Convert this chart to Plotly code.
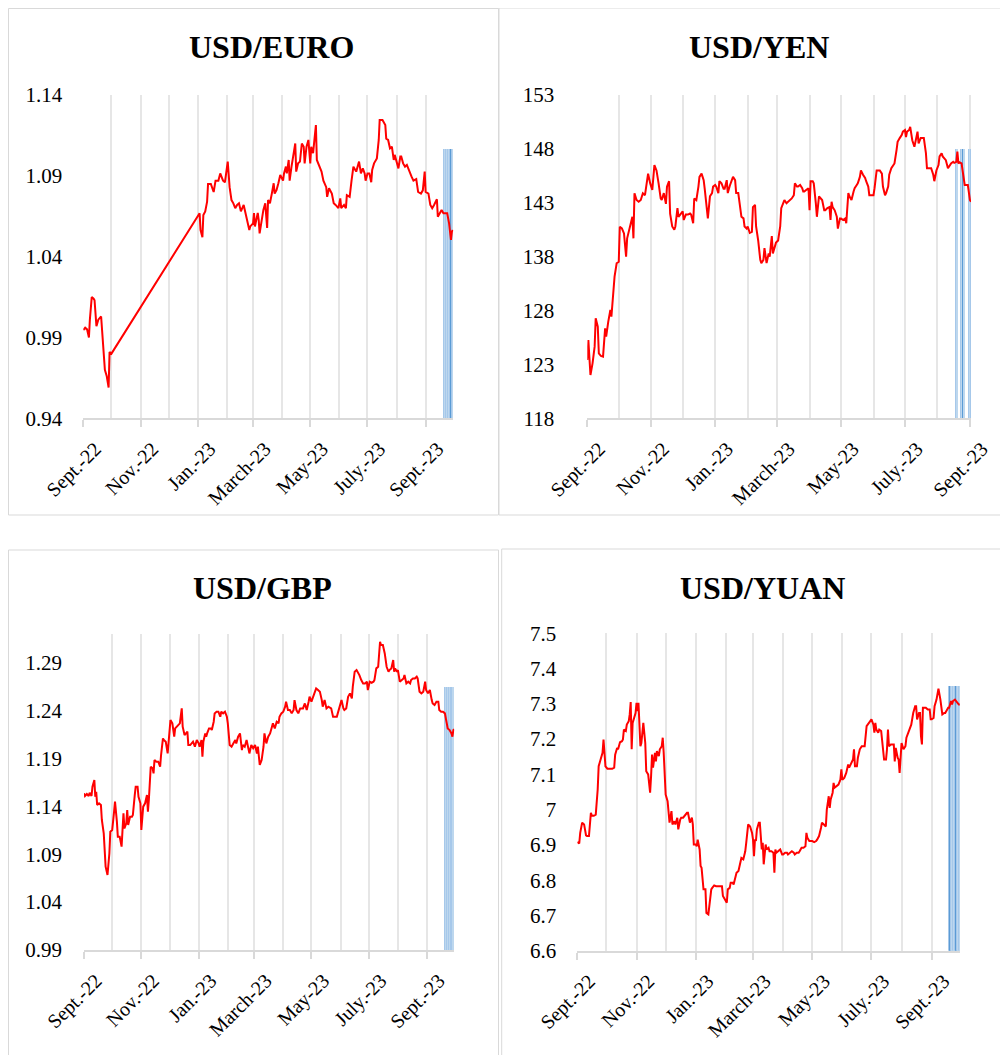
import numpy as np
import pandas as pd
import plotly.graph_objects as go

# ---------------- data (day offsets are days since 2022-09-01) ----------------
START = pd.Timestamp("2022-09-01")

EURO = [(0,0.9946),(2,0.996),(4,0.995),(6,0.990),(7,1.001),(9,1.015),(11,1.014),(12,1.013),(14,0.997),
(16,1.001),(19,1.003),(21,0.983),(23,0.970),(25,0.966),(27,0.959),(28,0.981),(30,0.980),
(124,1.0668),(125,1.0565),(127,1.052),(128,1.0658),(130,1.068),(132,1.074),(133,1.085),(136,1.085),
(139,1.080),(141,1.087),(144,1.087),(146,1.0915),(149,1.087),(151,1.086),(154,1.0988),(156,1.083),
(158,1.075),(160,1.073),(162,1.070),(164,1.072),(166,1.073),(168,1.068),(171,1.072),(173,1.067),
(175,1.0606),(177,1.0565),(178,1.0587),(181,1.0606),(182,1.067),(183,1.0587),(186,1.067),(187,1.0627),
(188,1.0544),(190,1.0627),(192,1.0689),(194,1.073),(196,1.0577),(197,1.075),(199,1.073),(201,1.079),
(203,1.0854),(204,1.079),(206,1.0812),(208,1.0854),(210,1.0905),(213,1.087),(214,1.0915),(216,1.0957),
(217,1.0915),(219,1.0998),(220,1.087),(222,1.0957),(224,1.104),(226,1.110),(227,1.0926),(229,1.0977),
(231,1.0988),(233,1.110),(235,1.108),(236,1.0977),(238,1.108),(240,1.1122),(242,1.0977),(243,1.108),
(245,1.104),(248,1.1214),(249,1.0998),(252,1.0957),(254,1.0926),(256,1.087),(259,1.083),(260,1.077),
(262,1.0823),(265,1.079),(267,1.073),(269,1.072),(272,1.070),(274,1.076),(275,1.070),(278,1.072),
(280,1.070),(281,1.078),(284,1.077),(286,1.087),(288,1.0957),(290,1.0936),(291,1.0926),(294,1.0988),
(296,1.0915),(298,1.0946),(300,1.0915),(301,1.087),(303,1.0915),(305,1.0915),(307,1.086),(308,1.0936),
(310,1.0977),(313,1.1008),(315,1.1122),(316,1.1245),(319,1.1245),(322,1.1214),(323,1.113),(325,1.1122),
(327,1.107),(329,1.108),(331,1.0998),(332,1.103),(334,1.0988),(336,1.0946),(338,1.1019),(339,1.1019),
(341,1.0977),(343,1.0957),(345,1.0967),(348,1.0915),(350,1.0895),(352,1.087),(355,1.088),(357,1.080),
(360,1.079),(362,1.081),(364,1.0926),(365,1.080),(368,1.079),(370,1.072),(372,1.070),(374,1.072),
(377,1.0755),(378,1.0647),(380,1.0668),(382,1.0689),(384,1.0668),(386,1.0668),(388,1.0668),(390,1.0606),
(391,1.0565),(392,1.0503),(393,1.0555),(394,1.0565)]

YEN = [(0,123.41),(1,125.27),(3,122.02),(5,123.1),(7,124.65),(8,127.28),(10,126.5),(11,124.03),(13,123.78),
(15,123.72),(17,126.35),(18,125.58),(20,126.97),(22,128.1),(23,127.43),(25,131.8),(26,134.3),(28,136.76),
(30,137.07),(31,140.78),(33,140.63),(35,140.16),(37,138.0),(38,139.7),(41,140.8),(43,141.7),(44,139.7),
(45,143.88),(47,143.26),(49,143.1),(51,143.26),(53,143.88),(55,143.7),(57,145.1),(58,145.7),(60,144.8),
(62,144.2),(64,146.5),(66,146.0),(68,144.8),(70,143.4),(71,143.26),(73,143.9),(75,142.9),(76,144.5),
(78,145.0),(79,142.0),(81,140.8),(83,140.5),(84,140.8),(86,142.5),(87,141.7),(89,142.0),(91,142.2),
(92,141.4),(94,141.9),(96,141.9),(98,142.0),(99,141.9),(101,141.1),(102,143.4),(104,143.25),(106,144.5),
(107,145.4),(109,145.7),(111,145.1),(112,144.3),(114,142.3),(115,141.55),(117,143.6),(119,143.9),
(120,144.5),(122,144.65),(123,144.5),(125,143.9),(126,145.0),(128,144.8),(130,144.3),(131,144.3),
(133,145.1),(134,143.9),(136,144.6),(138,145.1),(139,145.4),(141,145.1),(142,143.9),(144,143.9),
(146,142.6),(147,141.7),(149,141.55),(150,140.8),(152,140.6),(153,140.8),(155,140.2),(157,140.3),
(158,142.6),(160,142.8),(161,140.8),(163,139.5),(165,137.4),(166,136.8),(168,137.4),(169,138.8),
(171,136.8),(173,138.3),(174,138.0),(176,139.9),(177,138.3),(179,138.9),(180,139.3),(182,139.5),
(184,140.8),(185,142.5),(187,142.95),(188,143.25),(190,142.95),(192,143.1),(193,143.25),(195,143.4),
(197,143.7),(198,144.8),(200,144.5),(201,144.5),(203,144.65),(205,144.35),(206,144.05),(207,144.05),
(209,144.2),(211,144.35),(212,142.3),(213,145.0),(215,145.0),(216,144.8),(218,142.95),(219,141.7),
(221,143.6),(223,143.4),(224,143.25),(226,142.3),(227,142.3),(229,142.5),(231,142.6),(232,141.4),
(233,143.1),(234,142.6),(236,142.3),(238,141.7),(239,140.6),(241,141.55),(242,141.55),(244,141.4),
(246,141.55),(247,141.1),(249,143.9),(250,143.6),(252,143.25),(254,144.05),(255,144.35),(257,144.65),
(258,144.8),(260,145.4),(261,146.0),(263,145.6),(265,145.3),(266,145.0),(268,144.5),(269,143.7),
(271,143.7),(273,143.7),(274,144.35),(276,146.0),(277,146.0),(279,146.0),(281,145.7),(282,144.5),
(284,143.7),(285,143.9),(287,144.5),(288,145.6),(290,146.2),(292,146.5),(293,146.65),(295,147.9),
(296,148.65),(298,149.0),(300,149.3),(301,149.6),(303,149.75),(304,149.1),(305,149.6),(307,149.75),
(308,150.05),(310,148.8),(312,148.2),(313,148.65),(315,149.6),(316,148.5),(318,149.0),(320,149.0),
(321,149.0),(323,147.6),(324,146.2),(327,146.2),(328,146.2),(330,145.6),(331,145.0),(333,146.0),
(335,146.5),(336,147.3),(338,147.6),(339,147.3),(341,147.1),(342,146.95),(344,146.2),(346,146.5),
(347,146.65),(349,146.8),(350,146.7),(352,146.8),(353,147.75),(354,146.65),(355,146.75),(357,146.65),
(358,146.0),(360,144.65),(362,144.65),(363,144.65),(365,143.25),(366,143.1)]

GBP = [(0,1.1536),(1,1.1508),(3,1.1529),(5,1.1508),(6,1.1543),(8,1.1508),(9,1.1606),(11,1.1675),(12,1.150),
(13,1.1553),(14,1.1414),(16,1.1432),(18,1.1414),(19,1.1258),(21,1.1118),(22,1.084),(23,1.077),(25,1.0683),
(27,1.091),(28,1.1136),(30,1.1153),(32,1.1345),(33,1.1449),(35,1.124),(36,1.1083),(38,1.1083),(40,1.0979),
(42,1.1327),(43,1.117),(45,1.1223),(46,1.1362),(47,1.1205),(49,1.1292),(51,1.1292),(52,1.131),(54,1.1518),
(55,1.1606),(57,1.1606),(58,1.150),(60,1.1432),(61,1.1153),(63,1.1397),(65,1.1432),(67,1.1518),(68,1.1345),
(69,1.1466),(71,1.1814),(73,1.1797),(74,1.1745),(75,1.1884),(77,1.1867),(79,1.1867),(81,1.1814),(82,1.1936),
(84,1.211),(85,1.2093),(87,1.2075),(89,1.1953),(91,1.2197),(92,1.2301),(94,1.2267),(96,1.2128),(97,1.2214),
(100,1.2249),(102,1.2267),(104,1.2423),(105,1.2232),(107,1.2145),(110,1.218),(111,1.204),(113,1.204),
(116,1.2075),(118,1.2023),(120,1.2093),(122,1.2058),(123,1.2023),(125,1.2093),(126,1.1919),(127,1.2075),
(129,1.2162),(130,1.2128),(131,1.2162),(133,1.2214),(135,1.2214),(136,1.2197),(138,1.2284),(139,1.2371),
(141,1.2388),(143,1.2388),(145,1.2336),(146,1.2388),(148,1.2371),(150,1.2388),(152,1.2336),(153,1.2267),
(155,1.204),(157,1.2023),(159,1.2058),(161,1.2093),(162,1.2058),(164,1.2128),(166,1.2162),(168,1.1988),
(169,1.204),(171,1.2023),(173,1.2093),(175,1.1988),(176,1.1953),(178,1.204),(180,1.2006),(182,1.204),
(184,1.1953),(185,1.2023),(187,1.1832),(189,1.1884),(191,1.2023),(192,1.2162),(194,1.2058),(196,1.2128),
(198,1.2162),(200,1.2232),(201,1.2267),(203,1.2214),(205,1.2284),(207,1.2267),(208,1.2336),(210,1.2371),
(212,1.2388),(214,1.2441),(215,1.2493),(217,1.2406),(219,1.2406),(221,1.2371),(223,1.2406),(224,1.251),
(226,1.2406),(228,1.2371),(230,1.2423),(231,1.2423),(233,1.2423),(235,1.2475),(237,1.2406),(239,1.2493),
(240,1.2545),(242,1.2493),(244,1.2545),(246,1.2615),(247,1.2632),(249,1.2615),(251,1.2597),(253,1.251),
(254,1.2441),(256,1.251),(258,1.2423),(260,1.2441),(262,1.2423),(263,1.2423),(265,1.2336),(267,1.2336),
(269,1.2336),(270,1.2371),(272,1.2441),(274,1.251),(276,1.2423),(277,1.2406),(279,1.2423),(281,1.2545),
(283,1.258),(285,1.2528),(286,1.265),(288,1.2806),(290,1.2823),(292,1.2789),(293,1.2771),(295,1.2719),
(297,1.2684),(299,1.2684),(301,1.2702),(302,1.2615),(304,1.2702),(306,1.2691),(308,1.2702),(309,1.2719),
(311,1.2841),(313,1.2858),(315,1.3119),(316,1.3084),(318,1.3084),(320,1.2997),(322,1.2858),(324,1.2806),
(325,1.2823),(327,1.2841),(329,1.2928),(330,1.2806),(331,1.2841),(333,1.2806),(334,1.2823),(336,1.2702),
(338,1.2719),(340,1.2736),(341,1.2771),(343,1.2684),(345,1.2702),(347,1.2684),(348,1.2719),(350,1.2736),
(352,1.2736),(354,1.2754),(355,1.2736),(357,1.2597),(359,1.258),(361,1.2597),(363,1.2702),(364,1.2615),
(366,1.258),(368,1.2615),(370,1.251),(371,1.2475),(373,1.2458),(375,1.2493),(377,1.2493),(378,1.2406),
(380,1.2388),(382,1.2388),(384,1.2371),(386,1.2267),(387,1.2214),(389,1.2197),(391,1.2162),(392,1.2128),
(393,1.2197),(394,1.2204)]

YUAN = [(0,6.908),(2,6.904),(3,6.934),(5,6.963),(7,6.958),(9,6.927),(10,6.925),(12,6.925),(14,6.991),
(15,6.983),(17,6.983),(19,6.986),(21,7.057),(22,7.123),(24,7.142),(26,7.161),(27,7.199),(29,7.123),
(31,7.116),(34,7.116),(36,7.116),(38,7.119),(39,7.156),(41,7.175),(42,7.171),(44,7.191),(46,7.194),
(47,7.199),(48,7.227),(50,7.223),(51,7.241),(53,7.251),(54,7.270),(55,7.305),(56,7.171),(57,7.246),
(58,7.256),(60,7.274),(61,7.303),(62,7.279),(63,7.303),(65,7.180),(66,7.189),(68,7.246),(70,7.189),
(71,7.109),(73,7.100),(75,7.048),(76,7.095),(77,7.156),(78,7.119),(80,7.161),(81,7.137),(82,7.166),
(84,7.152),(85,7.171),(87,7.180),(88,7.204),(89,7.161),(91,7.043),(93,7.024),(94,6.986),(95,6.963),
(97,6.996),(98,6.958),(100,6.967),(101,6.958),(103,6.977),(104,6.944),(106,6.972),(107,6.977),(109,6.977),
(111,6.986),(113,6.991),(114,6.991),(116,6.963),(118,6.977),(119,6.958),(120,6.901),(122,6.901),
(123,6.896),(124,6.915),(126,6.887),(127,6.840),(128,6.835),(130,6.774),(132,6.774),(133,6.707),
(135,6.703),(137,6.745),(138,6.774),(139,6.778),(141,6.785),(143,6.783),(145,6.783),(147,6.783),
(149,6.783),(150,6.755),(152,6.745),(154,6.736),(155,6.774),(157,6.778),(158,6.793),(160,6.793),
(161,6.788),(163,6.811),(164,6.821),(166,6.826),(168,6.854),(169,6.863),(171,6.859),(173,6.882),
(174,6.906),(176,6.958),(178,6.952),(180,6.934),(181,6.915),(182,6.868),(183,6.915),(184,6.911),
(185,6.944),(187,6.963),(188,6.963),(190,6.887),(191,6.906),(192,6.845),(194,6.901),(195,6.887),
(197,6.892),(198,6.882),(200,6.882),(202,6.878),(203,6.821),(204,6.887),(205,6.878),(207,6.882),
(209,6.887),(211,6.873),(212,6.873),(214,6.878),(216,6.878),(217,6.873),(219,6.878),(221,6.882),
(223,6.878),(224,6.873),(226,6.878),(228,6.878),(229,6.882),(231,6.892),(233,6.892),(235,6.896),
(236,6.934),(237,6.920),(239,6.911),(240,6.911),(242,6.911),(244,6.908),(246,6.911),(247,6.915),
(249,6.925),(251,6.948),(252,6.963),(254,6.958),(256,6.952),(257,7.000),(259,7.038),(260,7.005),
(261,7.029),(263,7.048),(264,7.076),(265,7.062),(267,7.067),(269,7.071),(271,7.085),(272,7.114),
(273,7.085),(275,7.090),(277,7.104),(279,7.128),(280,7.119),(282,7.133),(284,7.142),(285,7.171),
(286,7.123),(288,7.123),(289,7.147),(291,7.171),(293,7.180),(295,7.180),(296,7.180),(298,7.237),
(300,7.246),(302,7.251),(303,7.256),(305,7.241),(306,7.218),(307,7.246),(308,7.227),(310,7.218),
(311,7.227),(313,7.223),(315,7.161),(316,7.142),(318,7.142),(319,7.171),(320,7.227),(321,7.180),
(323,7.185),(324,7.185),(326,7.185),(327,7.137),(328,7.175),(330,7.147),(331,7.142),(332,7.104),
(333,7.161),(334,7.189),(336,7.171),(338,7.180),(339,7.204),(341,7.218),(343,7.232),(344,7.241),
(346,7.274),(348,7.293),(349,7.293),(350,7.256),(352,7.274),(353,7.274),(354,7.208),(355,7.185),
(356,7.289),(358,7.289),(359,7.289),(361,7.284),(362,7.284),(363,7.284),(364,7.256),(365,7.256),
(367,7.260),(368,7.293),(370,7.312),(371,7.336),(372,7.343),(374,7.312),(375,7.279),(376,7.270),
(378,7.274),(379,7.274),(380,7.279),(382,7.289),(383,7.289),(385,7.308),(386,7.298),(387,7.308),
(389,7.312),(390,7.308),(391,7.303),(393,7.298),(394,7.298)]

# shaded (blue column) period in each panel: days and column height
EURO_BAND_DAYS = [385, 386, 387, 388, 389, 390, 391, 392, 393, 394]
EURO_BAND_VALUE = 1.1066
YEN_BAND_DAYS = [352, 353, 357, 358, 359, 360, 364, 365, 366]
YEN_BAND_VALUE = 148
GBP_BAND_DAYS = [384, 385, 386, 387, 388, 389, 390, 391, 392, 393]
GBP_BAND_VALUE = 1.265
YUAN_BAND_DAYS = [383, 384, 385, 386, 387, 388, 389, 390, 391, 392, 393, 394]
YUAN_BAND_VALUE = 7.35

# axis ticks
X_TICK_DATES = ["2022-09-01", "2022-11-01", "2023-01-01", "2023-03-01", "2023-05-01", "2023-07-01", "2023-09-01"]
X_TICK_TEXT = ["Sept.-22", "Nov.-22", "Jan.-23", "March-23", "May-23", "July.-23", "Sept.-23"]
EURO_TICKS = [0.94, 0.99, 1.04, 1.09, 1.14]
YEN_TICKS = [118, 123, 128, 138, 143, 148, 153]   # labels as printed (evenly spaced on the chart)
GBP_TICKS = [0.99, 1.04, 1.09, 1.14, 1.19, 1.24, 1.29]
YUAN_TICKS = [6.6, 6.7, 6.8, 6.9, 7.0, 7.1, 7.2, 7.3, 7.4, 7.5]
YUAN_TICK_TEXT = ["6.6", "6.7", "6.8", "6.9", "7", "7.1", "7.2", "7.3", "7.4", "7.5"]

# ---------------- helpers ----------------
def to_dates(days):
    return START + pd.to_timedelta(np.asarray(days, dtype=float), unit="D")

def split(pairs):
    d, v = zip(*pairs)
    return to_dates(d), np.array(v, dtype=float)

# the yen axis prints unevenly stepped labels at even spacing: map values onto that scale
def yen_scale(v):
    return np.interp(np.asarray(v, dtype=float), YEN_TICKS, np.arange(len(YEN_TICKS)))

FONT = "Liberation Serif, Times New Roman, serif"
RED = "#ff0000"
GRID = "#e6e6e6"
AXIS = "#d9d9d9"
DAY_MS = 86400000

# page body has an 8 px margin: figure occupies (8..1008, 8..1055) of the window
OFF = 8
W, H = 1000, 1047

def px(x):
    return (x - OFF) / W

def py(y):
    return 1 - (y - OFF) / H

def band_colors(n, dark_idx):
    cols = ["#a6c8ea" if i % 2 == 0 else "#bdd7ee" for i in range(n)]
    for k in dark_idx:
        cols[k] = "#5b9bd5"
    return cols

fig = go.Figure()

panels = [
    dict(title="USD/EURO", data=EURO, band=(EURO_BAND_DAYS, EURO_BAND_VALUE), dark=[7],
         xd=[83.3, 453.3], yd=[95, 418.3], xend=394.5, yrange=[0.94, 1.14],
         ytickvals=EURO_TICKS, yticktext=[f"{t:.2f}" for t in EURO_TICKS], standoff=20,
         tpos=(271, 47), scale=None),
    dict(title="USD/YEN", data=YEN, band=(YEN_BAND_DAYS, YEN_BAND_VALUE), dark=[4],
         xd=[587.3, 971.0], yd=[95, 418.3], xend=366, yrange=[0, len(YEN_TICKS) - 1],
         ytickvals=list(range(len(YEN_TICKS))), yticktext=[str(t) for t in YEN_TICKS], standoff=32,
         tpos=(759, 47), scale=yen_scale),
    dict(title="USD/GBP", data=GBP, band=(GBP_BAND_DAYS, GBP_BAND_VALUE), dark=[7],
         xd=[84.0, 454.3], yd=[634, 950], xend=394, yrange=[0.99, 1.32],
         ytickvals=GBP_TICKS, yticktext=[f"{t:.2f}" for t in GBP_TICKS], standoff=21,
         tpos=(262, 588), scale=None),
    dict(title="USD/YUAN", data=YUAN, band=(YUAN_BAND_DAYS, YUAN_BAND_VALUE), dark=[1, 7],
         xd=[577.3, 960.0], yd=[633.3, 950.7], xend=394.2, yrange=[6.6, 7.5],
         ytickvals=YUAN_TICKS, yticktext=YUAN_TICK_TEXT, standoff=20,
         tpos=(762, 588), scale=None),
]

layout = dict(width=W, height=H, margin=dict(l=0, r=0, t=0, b=0),
              paper_bgcolor="white", plot_bgcolor="white", showlegend=False,
              bargap=0, barmode="overlay", annotations=[], shapes=[])

minor_vals = pd.date_range("2022-10-01", "2023-09-01", freq="MS")

for i, p in enumerate(panels, start=1):
    xa = "x" if i == 1 else f"x{i}"
    ya = "y" if i == 1 else f"y{i}"
    xd = [px(p["xd"][0]), px(p["xd"][1])]
    yd = [py(p["yd"][1]), py(p["yd"][0])]
    sc = p["scale"] if p["scale"] else (lambda v: np.asarray(v, dtype=float))

    bdays, bval = p["band"]
    fig.add_trace(go.Bar(x=to_dates(bdays), y=sc([bval] * len(bdays)), width=DAY_MS,
                         marker=dict(color=band_colors(len(bdays), p["dark"]), line=dict(width=0)),
                         xaxis=xa, yaxis=ya, hoverinfo="skip"))
    dx, vy = split(p["data"])
    fig.add_trace(go.Scatter(x=dx, y=sc(vy), mode="lines", line=dict(color=RED, width=2),
                             xaxis=xa, yaxis=ya))

    xkey = "xaxis" if i == 1 else f"xaxis{i}"
    ykey = "yaxis" if i == 1 else f"yaxis{i}"
    layout[xkey] = dict(
        domain=xd, anchor=ya, type="date",
        range=[START, START + pd.Timedelta(days=p["xend"])],
        tickmode="array", tickvals=pd.to_datetime(X_TICK_DATES), ticktext=X_TICK_TEXT,
        tickangle=-45, tickfont=dict(family=FONT, size=20, color="#000000"),
        showgrid=True, gridcolor=GRID, gridwidth=1.5,
        minor=dict(tickmode="array", tickvals=minor_vals, showgrid=True, gridcolor=GRID,
                   gridwidth=1.5, ticks=""),
        showline=True, linecolor=AXIS, linewidth=2,
        ticks="outside", ticklen=7, tickcolor=AXIS, tickwidth=1.5,
        ticklabelstandoff=2, ticklabelshift=12, zeroline=False, automargin=False, fixedrange=True,
    )
    layout[ykey] = dict(
        domain=yd, anchor=xa, range=p["yrange"],
        tickmode="array", tickvals=p["ytickvals"], ticktext=p["yticktext"],
        tickfont=dict(family=FONT, size=21, color="#000000"),
        showgrid=False, showline=False, zeroline=False, ticks="",
        ticklabelstandoff=p["standoff"], automargin=False, fixedrange=True,
    )
    layout["annotations"].append(dict(
        text=f"<b>{p['title']}</b>", x=px(p["tpos"][0]), y=py(p["tpos"][1]),
        xref="paper", yref="paper", xanchor="center", yanchor="middle", showarrow=False,
        font=dict(family=FONT, size=32, color="#000000")))

# panel frames (window pixel coordinates)
frames = [(8.5, 8.5, 498.5, 515.0), (499.0, 8.0, 1020.0, 515.0),
          (8.5, 550.0, 498.5, 1070.0), (501.7, 549.0, 1020.0, 1070.0)]
for x0, y0, x1, y1 in frames:
    layout["shapes"].append(dict(type="rect", xref="paper", yref="paper",
                                 x0=px(x0), x1=px(x1), y0=py(y1), y1=py(y0),
                                 line=dict(color="#d9d9d9", width=1), fillcolor="rgba(0,0,0,0)",
                                 layer="below"))

fig.update_layout(**layout)
fig.write_html("out.html")
